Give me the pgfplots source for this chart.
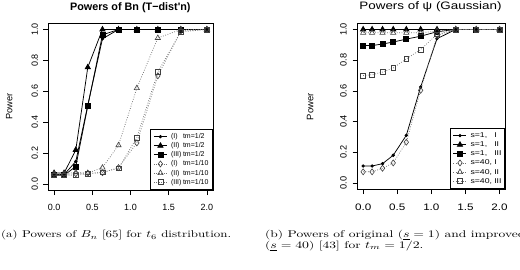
\documentclass[border=0pt]{standalone}
\usepackage{fontspec}
\usepackage{graphicx}
\usepackage{pgfplots}
\usepackage{pgfplotstable}
\pgfplotsset{compat=1.18}
\newfontfamily\rsans{Liberation Sans}
\newfontfamily\rsanswide[FakeStretch=1.24]{Liberation Sans}

\pgfplotstableread{
x     I     II    III   Ia    IIa   IIIa
0     0.060 0.070 0.055 0.060 0.065 0.055
0.131 0.060 0.070 0.055 0.060 0.065 0.055
0.284 0.145 0.220 0.113 0.065 0.075 0.055
0.441 0.510 0.755 0.505 0.068 0.070 0.065
0.633 0.940 1.000 0.965 0.072 0.105 0.075
0.843 1.000 1.000 1.000 0.105 0.250 0.100
1.083 1.000 1.000 1.000 0.265 0.620 0.300
1.358 1.000 1.000 1.000 0.700 0.945 0.725
1.659 1.000 1.000 1.000 0.990 1.000 0.985
2.000 1.000 1.000 1.000 1.000 1.000 1.000
}\lefttab

\pgfplotstableread{
x     I     II    III   Ia    IIa   IIIa
0     0.110 1.000 0.895 0.072 0.978 0.700
0.131 0.110 1.000 0.895 0.072 0.978 0.705
0.284 0.125 1.000 0.905 0.095 0.978 0.722
0.441 0.180 1.000 0.918 0.130 0.978 0.749
0.633 0.310 1.000 0.937 0.265 0.978 0.808
0.843 0.625 1.000 0.956 0.603 0.978 0.869
1.083 0.940 1.000 0.985 0.960 0.990 0.968
1.358 1.000 1.000 1.000 1.000 1.000 1.000
1.659 1.000 1.000 1.000 1.000 1.000 1.000
2.000 1.000 1.000 1.000 1.000 1.000 1.000
}\righttab

\pgfplotsset{
  rplot/.style={
    scale only axis,
    axis line style={black, line width=0.8pt},
    tick style={black, line width=0.6pt},
    tick align=outside,
    major tick length=5pt,
    tick pos=left,
    xmin=-0.08, xmax=2.08, ymin=-0.04, ymax=1.04,
    xtick={0,0.5,1,1.5,2},
    ytick={0,0.2,0.4,0.6,0.8,1},
    /pgf/number format/.cd, fixed, fixed zerofill, precision=1, assume math mode=true, /pgfplots/.cd,
    xticklabel style={anchor=base},
    yticklabel style={rotate=90, anchor=base},
    legend cell align=left,
    legend image code/.code={\draw[mark repeat=2,mark phase=2] plot coordinates {(0pt,0pt) (6.5pt,0pt) (13pt,0pt)};},
    legend style={at={(1,0)}, anchor=south east, draw=black, line width=0.6pt,
      inner xsep=2.5pt, inner ysep=3.5pt, row sep=1pt,
      nodes={inner sep=0.7pt, text height=5.3pt, text depth=1.4pt}},
  },
  s1/.style={black, line width=0.75pt, solid},
  s2/.style={black!55, line width=0.7pt, dash pattern=on 0.8pt off 1.6pt,
     mark options={solid, black!75, line width=0.6pt}},
}

\begin{document}
\begin{tikzpicture}
\path[use as bounding box] (0pt,0pt) rectangle (520pt,-269pt);
\clip (0pt,0pt) rectangle (520pt,-269pt);

% ---------- left panel ----------
\begin{axis}[rplot,
  at={(48pt,-190pt)}, anchor=south west,
  width=165pt, height=166.7pt,
  xticklabel style={font=\rsans\fontsize{9}{10}\selectfont, yshift=-15pt},
  yticklabel style={font=\rsans\fontsize{9}{10}\selectfont},
  yticklabel shift=5pt,
  legend style={font=\rsans\fontsize{7}{8}\selectfont, inner xsep=3.5pt},
]
\addplot[s1, mark=*, mark size=1.3pt] table[x=x,y=I] {\lefttab};
\addlegendentry{\hspace{3pt}\makebox[12pt][l]{(I)}tm=1/2}
\addplot[s1, mark=triangle*, mark size=3pt] table[x=x,y=II] {\lefttab};
\addlegendentry{\hspace{3pt}\makebox[12pt][l]{(II)}tm=1/2}
\addplot[s1, mark=square*, mark size=2.5pt] table[x=x,y=III] {\lefttab};
\addlegendentry{\hspace{3pt}\makebox[12pt][l]{(III)}tm=1/2}
\addplot[s2, mark=diamond, mark size=3pt] table[x=x,y=Ia] {\lefttab};
\addlegendentry{\hspace{3pt}\makebox[12pt][l]{(I)}tm=1/10}
\addplot[s2, mark=triangle, mark size=3pt] table[x=x,y=IIa] {\lefttab};
\addlegendentry{\hspace{3pt}\makebox[12pt][l]{(II)}tm=1/10}
\addplot[s2, mark=square, mark size=2.4pt] table[x=x,y=IIIa] {\lefttab};
\addlegendentry{\hspace{3pt}\makebox[12pt][l]{(III)}tm=1/10}
\end{axis}

% ---------- right panel ----------
\begin{axis}[rplot,
  at={(357.7pt,-189pt)}, anchor=south west,
  width=147.3pt, height=165.7pt,
  xticklabel style={font=\rsanswide\fontsize{9.4}{10}\selectfont, yshift=-16.5pt},
  yticklabel style={font=\rsans\fontsize{9.2}{10}\selectfont},
  yticklabel shift=6pt,
  legend style={font=\rsanswide\fontsize{7}{8}\selectfont},
]
\addplot[s1, mark=*, mark size=1.3pt] table[x=x,y=I] {\righttab};
\addlegendentry{\hspace{3pt}\makebox[23.7pt][l]{s=1,}I}
\addplot[s1, mark=triangle*, mark size=3pt] table[x=x,y=II] {\righttab};
\addlegendentry{\hspace{3pt}\makebox[23.7pt][l]{s=1,}II}
\addplot[s1, mark=square*, mark size=2.5pt] table[x=x,y=III] {\righttab};
\addlegendentry{\hspace{3pt}\makebox[23.7pt][l]{s=1,}III}
\addplot[s2, mark=diamond, mark size=3pt] table[x=x,y=Ia] {\righttab};
\addlegendentry{\hspace{3pt}\makebox[23.7pt][l]{s=40,}I}
\addplot[s2, mark=triangle, mark size=3pt] table[x=x,y=IIa] {\righttab};
\addlegendentry{\hspace{3pt}\makebox[23.7pt][l]{s=40,}II}
\addplot[s2, mark=square, mark size=2.4pt] table[x=x,y=IIIa] {\righttab};
\addlegendentry{\hspace{3pt}\makebox[23.7pt][l]{s=40,}III}
\end{axis}

% titles and axis labels
\node[anchor=base, font=\rsans\bfseries\fontsize{10.8}{12}\selectfont] at (130.3pt,-10.7pt) {Powers of Bn (T\char"2212 dist'n)};
\node[anchor=base, font=\rsanswide\fontsize{10.8}{12}\selectfont] at (430.5pt,-9.5pt) {Powers of ψ (Gaussian)};
\node[rotate=90, font=\rsans\fontsize{9.2}{10}\selectfont] at (9.3pt,-106.7pt) {Power};
\node[rotate=90, font=\rsans\fontsize{9.4}{10}\selectfont] at (310.3pt,-106.7pt) {Power};

% captions
\node[anchor=base west, inner sep=0pt] at (1pt,-237.5pt) {\scalebox{1.32}[1]{\fontsize{9.8}{11}\selectfont (a) Powers of $B_n$ [65] for $t_6$ distribution.}};
\node[anchor=base west, inner sep=0pt] at (265pt,-237.5pt) {\scalebox{1.38}[1]{\fontsize{9.8}{11}\selectfont (b) Powers of original ($\underline{s}=1$) and improved}};
\node[anchor=base west, inner sep=0pt] at (265pt,-248.3pt) {\scalebox{1.38}[1]{\fontsize{9.8}{11}\selectfont ($\underline{s}=40$) [43] for $t_m=1/2$.}};
\end{tikzpicture}
\end{document}
